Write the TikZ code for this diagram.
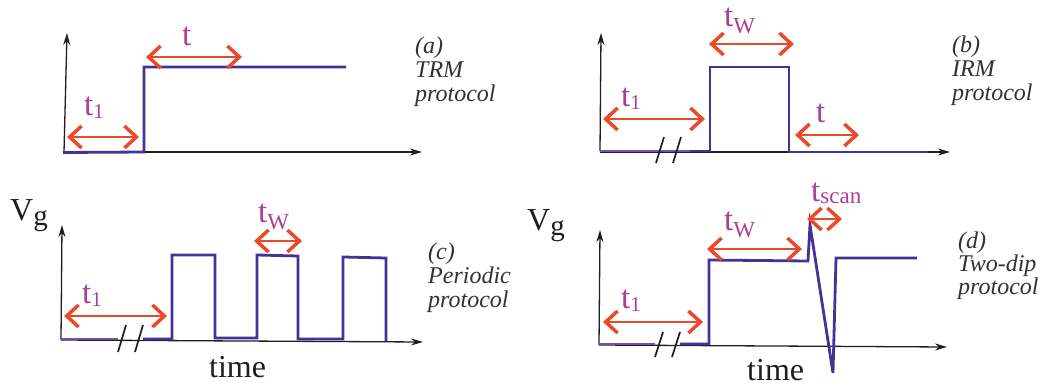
\documentclass[tikz,border=0pt]{standalone}
\usepackage{fontspec}
\setmainfont{Liberation Serif}
\usetikzlibrary{arrows.meta}
\definecolor{sig}{RGB}{68,50,150}
\definecolor{sigl}{RGB}{110,80,175}
\definecolor{arr}{RGB}{234,74,40}
\definecolor{lab}{RGB}{172,62,150}
\definecolor{ax}{RGB}{30,30,30}
\definecolor{capc}{RGB}{50,50,50}
\newcommand\tlbl[3]{t\raisebox{-#3pt}{\fontsize{#2}{#2}\selectfont #1}}
\tikzset{
 axis/.style={draw=ax, line width=1.3pt, -{Stealth[length=12pt,width=7pt]}},
 signal/.style={draw=sig, line width=2.8pt, line join=miter},
 thinsig/.style={draw=sigl, line width=1.6pt},
 dur/.style={draw=arr, line width=2pt, {Straight Barb[length=12pt,width=22pt,line width=3.5pt]}-{Straight Barb[length=12pt,width=22pt,line width=3.5pt]}},
 brk/.style={draw=ax, line width=1.7pt},
 tlab/.style={text=lab, font=\fontsize{33}{33}\selectfont, inner sep=0pt, anchor=base west},
 capt/.style={text=capc, font=\fontsize{24}{25}\selectfont\itshape, inner sep=0pt, anchor=base west},
 big/.style={text=ax, font=\fontsize{32}{32}\selectfont, inner sep=0pt, anchor=base west},
}
\begin{document}
\begin{tikzpicture}[x=1pt,y=-1pt]
\useasboundingbox (0,0) rectangle (1054,386);
% ---------- (a) ----------
\draw[axis] (64,152) -- (67,33);
\draw[axis] (64,152) -- (422,152);
\draw[signal] (63,152.5) -- (144,152) -- (144,67) -- (346,67);
\draw[dur] (67,137) -- (139,137);
\draw[dur] (146,57) -- (242,57);
\node[tlab] (a-t1) at (84,115) {\tlbl{1}{21}{3}};
\node[tlab] (a-t) at (182,45) {t};
\node[capt] (a-c1) at (415,53) {(a)};
\node[capt] (a-c2) at (415,77) {TRM};
\node[capt] (a-c3) at (415,101) {protocol};
% ---------- (b) ----------
\draw[axis] (600,151) -- (601,33);
\draw[axis] (600,152) -- (950,152);
\draw[thinsig] (600,151) -- (710,151);
\draw[signal] (690,151) -- (710,151) -- (710,67) -- (789,67) -- (789,152) -- (928,152);
\draw[brk] (656,163) -- (664,137);
\draw[brk] (673,163) -- (681,137);
\draw[dur] (603,119) -- (705,119);
\draw[dur] (709,44) -- (794,44);
\draw[dur] (795,135) -- (859,135);
\node[tlab] (b-t1) at (621,106) {\tlbl{1}{21}{3}};
\node[tlab] (b-tw) at (724,26) {\tlbl{W}{23}{7}};
\node[tlab] (b-t) at (816,122) {t};
\node[capt] (b-c1) at (952,52) {(b)};
\node[capt] (b-c2) at (952,76) {IRM};
\node[capt] (b-c3) at (952,100) {protocol};
% ---------- (c) ----------
\draw[axis] (61,340) -- (62,225);
\draw[axis] (61,340) -- (423,342);
\draw[thinsig] (61,339) -- (118,339);
\draw[signal] (143,339) -- (172,339) -- (172,255) -- (215,255) -- (215,338) -- (257,338) -- (257,255) -- (298,256) -- (298,339) -- (343,339) -- (343,257) -- (386,258) -- (386,341);
\draw[brk] (118,352) -- (126,325);
\draw[brk] (135,352) -- (143,325);
\draw[dur] (64,316) -- (167,316);
\draw[dur] (254,241) -- (302,241);
\node[tlab] (c-t1) at (82,303) {\tlbl{1}{21}{3}};
\node[tlab] (c-tw) at (258,222) {\tlbl{W}{23}{7}};
\node[big] (c-vg) at (10,220) {V\raisebox{-5pt}{\fontsize{29}{29}\selectfont g}};
\node[big] (c-time) at (209,377) {time};
\node[capt] (c-c1) at (428,259) {(c)};
\node[capt] (c-c2) at (428,283) {Periodic};
\node[capt] (c-c3) at (428,307) {protocol};
% ---------- (d) ----------
\draw[axis] (599,345) -- (600,230);
\draw[axis] (599,345) -- (947,347);
\draw[thinsig] (599,344) -- (655,344);
\draw[signal] (680,344) -- (709,344) -- (709,260) -- (808,261) -- (810,225) -- (833,373) -- (836,258) -- (917,258);
\draw[brk] (655,357) -- (663,332);
\draw[brk] (672,357) -- (680,332);
\draw[dur] (603,322) -- (703,322);
\draw[dur] (707,249) -- (802,249);
\draw[dur] (807,219) -- (842,219);
\node[tlab] (d-t1) at (621,308) {\tlbl{1}{21}{3}};
\node[tlab] (d-tw) at (724,230) {\tlbl{W}{23}{7}};
\node[tlab] (d-ts) at (811,201) {\tlbl{scan}{23}{2}};
\node[big] (d-vg) at (527,230) {V\raisebox{-5pt}{\fontsize{29}{29}\selectfont g}};
\node[big] (d-time) at (747,380) {time};
\node[capt] (d-c1) at (958,248) {(d)};
\node[capt] (d-c2) at (958,271) {Two-dip};
\node[capt] (d-c3) at (958,294) {protocol};
\end{tikzpicture}
\end{document}
